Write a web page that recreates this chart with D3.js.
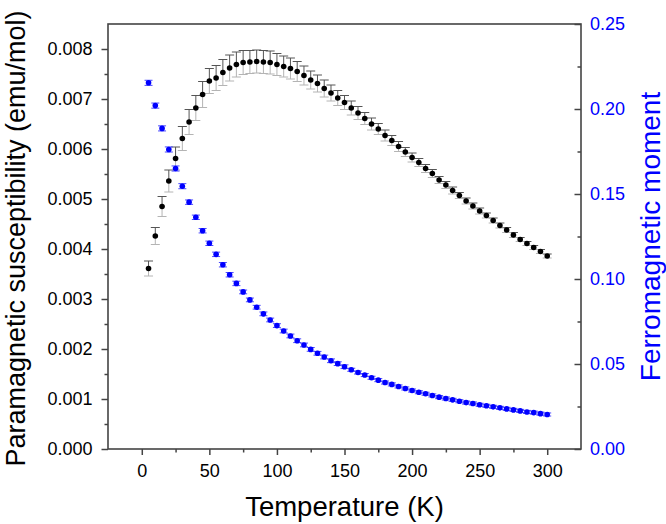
<!DOCTYPE html>
<html>
<head>
<meta charset="utf-8">
<script src="https://cdn.jsdelivr.net/npm/d3@7"></script>
<style>
    body { margin: 0; background: #fff; }
    svg text { font-family: "Liberation Sans", Arial, sans-serif; }
</style>
</head>
<body>
<div id="chart"></div>
<script>

// temperature (K)
var temperature = [5, 10, 15, 20, 25, 30, 35, 40, 45, 50, 55, 60, 65, 70, 75, 80, 85, 90, 95, 100,
    105, 110, 115, 120, 125, 130, 135, 140, 145, 150, 155, 160, 165, 170, 175, 180, 185, 190, 195, 200,
    205, 210, 215, 220, 225, 230, 235, 240, 245, 250, 255, 260, 265, 270, 275, 280, 285, 290, 295, 300];

// paramagnetic susceptibility (emu/mol), left axis
var chiPara = [0.00361, 0.00426, 0.00485, 0.00536, 0.00581, 0.00621, 0.00654, 0.00682, 0.00709, 0.00736,
    0.00742, 0.00753, 0.00762, 0.00769, 0.00773, 0.00774, 0.00775, 0.00774, 0.00773, 0.00769,
    0.00765, 0.00761, 0.00755, 0.00747, 0.00738, 0.00731, 0.00721, 0.00712, 0.00702, 0.00693,
    0.00682, 0.00672, 0.00661, 0.00650, 0.00640, 0.00627, 0.00617, 0.00605, 0.00594, 0.00583,
    0.00573, 0.00561, 0.00551, 0.00538, 0.00528, 0.00517, 0.00507, 0.00496, 0.00486, 0.00476,
    0.00467, 0.00457, 0.00447, 0.00438, 0.00428, 0.00419, 0.00411, 0.00403, 0.00395, 0.00386];

var chiErr = [0.00015, 0.00017, 0.00020, 0.00022, 0.00023, 0.00024, 0.00025, 0.00025, 0.00026, 0.00025,
    0.00025, 0.00026, 0.00026, 0.00025, 0.00024, 0.00023, 0.00023, 0.00023, 0.00023, 0.00022,
    0.00021, 0.00021, 0.00020, 0.00019, 0.00018, 0.00017, 0.00017, 0.00016, 0.00015, 0.00014,
    0.00014, 0.00013, 0.00012, 0.00012, 0.00011, 0.00011, 0.00010, 0.00010, 0.00009, 0.00009,
    0.00008, 0.00008, 0.00008, 0.00007, 0.00007, 0.00007, 0.00006, 0.00006, 0.00006, 0.00006,
    0.00005, 0.00005, 0.00005, 0.00005, 0.00005, 0.00004, 0.00004, 0.00004, 0.00004, 0.00004];

// ferromagnetic moment, right axis
var ferroMoment = [0.2154, 0.2020, 0.1886, 0.1762, 0.1650, 0.1546, 0.1452, 0.1363, 0.1284, 0.1210,
    0.1145, 0.1084, 0.1025, 0.0974, 0.0924, 0.0877, 0.0834, 0.0795, 0.0759, 0.0726,
    0.0694, 0.0665, 0.0637, 0.0612, 0.0586, 0.0563, 0.0541, 0.0519, 0.0502, 0.0484,
    0.0466, 0.0450, 0.0435, 0.0419, 0.0405, 0.0391, 0.0380, 0.0368, 0.0356, 0.0344,
    0.0334, 0.0325, 0.0315, 0.0305, 0.0297, 0.0289, 0.0281, 0.0273, 0.0268, 0.0260,
    0.0254, 0.0248, 0.0242, 0.0236, 0.0230, 0.0224, 0.0218, 0.0214, 0.0208, 0.0203];

var ferroErr = [0.0015, 0.0015, 0.0015, 0.0015, 0.0015, 0.0015, 0.0013, 0.0013, 0.0013, 0.0013,
    0.0013, 0.0013, 0.0013, 0.0013, 0.0011, 0.0011, 0.0011, 0.0011, 0.0011, 0.0011,
    0.0011, 0.0011, 0.0011, 0.0011, 0.0011, 0.0011, 0.0011, 0.0011, 0.0011, 0.0011,
    0.0009, 0.0009, 0.0009, 0.0009, 0.0009, 0.0009, 0.0009, 0.0009, 0.0009, 0.0009,
    0.0009, 0.0009, 0.0009, 0.0009, 0.0009, 0.0009, 0.0009, 0.0009, 0.0009, 0.0009,
    0.0009, 0.0009, 0.0009, 0.0009, 0.0009, 0.0009, 0.0009, 0.0009, 0.0009, 0.0009];

// tick values
var xTicks = [0, 50, 100, 150, 200, 250, 300];
var xMinor = [25, 75, 125, 175, 225, 275];
var leftTicks = [0, 0.001, 0.002, 0.003, 0.004, 0.005, 0.006, 0.007, 0.008];
var leftMinor = [0.0005, 0.0015, 0.0025, 0.0035, 0.0045, 0.0055, 0.0065, 0.0075];
var rightTicks = [0, 0.05, 0.10, 0.15, 0.20, 0.25];
var rightMinor = [0.025, 0.075, 0.125, 0.175, 0.225];


var margin = { top: 24, right: 85, bottom: 75, left: 108 };
var width = 666 - margin.left - margin.right;
var height = 524 - margin.top - margin.bottom;
var axisColor = "#444";
var blue = "#0000ff";

var svg = d3.select("#chart").append("svg")
    .attr("width", 666)
    .attr("height", 524);

var g = svg.append("g")
    .attr("transform", "translate(" + margin.left + "," + margin.top + ")");

var x = d3.scaleLinear().domain([-25, 325]).range([0, width]);
var yLeft = d3.scaleLinear().domain([0, 0.0085]).range([height, 0]);
var yRight = d3.scaleLinear().domain([0, 0.25]).range([height, 0]);

var black = temperature.map(function(t, i) { return { t: t, v: chiPara[i], e: chiErr[i] }; });
var ferro = temperature.map(function(t, i) { return { t: t, v: ferroMoment[i], e: ferroErr[i] }; });

function styleAxis(sel) {
    sel.select(".domain").remove();
    sel.selectAll(".tick line").attr("stroke", axisColor).attr("stroke-width", 1.5);
    sel.selectAll(".tick text").attr("font-size", 18).attr("fill", "#000");
}

// x axis
g.append("g")
    .attr("transform", "translate(0," + height + ")")
    .call(d3.axisBottom(x).tickValues(xTicks).tickSize(6).tickPadding(9).tickFormat(d3.format("d")))
    .call(styleAxis);
g.append("g")
    .attr("transform", "translate(0," + height + ")")
    .call(d3.axisBottom(x).tickValues(xMinor).tickSize(3.5).tickFormat(""))
    .call(styleAxis);

// left axis
g.append("g")
    .call(d3.axisLeft(yLeft).tickValues(leftTicks).tickSize(6.5).tickPadding(9).tickFormat(d3.format(".3f")))
    .call(styleAxis);
g.append("g")
    .call(d3.axisLeft(yLeft).tickValues(leftMinor).tickSize(3.5).tickFormat(""))
    .call(styleAxis);

// right axis, ticks pointing in
var rightAxis = g.append("g")
    .attr("transform", "translate(" + width + ",0)")
    .call(d3.axisRight(yRight).tickValues(rightTicks).tickSizeInner(-6.5).tickSizeOuter(0).tickPadding(9).tickFormat(d3.format(".2f")))
    .call(styleAxis);
rightAxis.selectAll(".tick text").attr("fill", blue);
g.append("g")
    .attr("transform", "translate(" + width + ",0)")
    .call(d3.axisRight(yRight).tickValues(rightMinor).tickSizeInner(-3.5).tickSizeOuter(0).tickFormat(""))
    .call(styleAxis);

// frame
g.append("rect")
    .attr("width", width)
    .attr("height", height)
    .attr("fill", "none")
    .attr("stroke", axisColor)
    .attr("stroke-width", 1.6);

// error bars, susceptibility: upper half dark, lower half light
var capW = 4.5;
var errB = g.append("g");
errB.selectAll("path.up")
    .data(black)
    .enter().append("path")
    .attr("class", "up")
    .attr("fill", "none")
    .attr("stroke", "#555")
    .attr("stroke-width", 1)
    .attr("d", function(d) {
        var cx = x(d.t), y0 = yLeft(d.v), y1 = yLeft(d.v + d.e);
        return "M" + cx + "," + y0 + "V" + y1 + "M" + (cx - capW) + "," + y1 + "H" + (cx + capW);
    });
errB.selectAll("path.down")
    .data(black)
    .enter().append("path")
    .attr("class", "down")
    .attr("fill", "none")
    .attr("stroke", "#b4b4b4")
    .attr("stroke-width", 1)
    .attr("d", function(d) {
        var cx = x(d.t), y0 = yLeft(d.v), y1 = yLeft(d.v - d.e);
        return "M" + cx + "," + y0 + "V" + y1 + "M" + (cx - capW) + "," + y1 + "H" + (cx + capW);
    });

// error bars, ferromagnetic moment
g.append("g").selectAll("path")
    .data(ferro)
    .enter().append("path")
    .attr("fill", "none")
    .attr("stroke", "#4a4aff")
    .attr("stroke-width", 1)
    .attr("d", function(d) {
        var cx = x(d.t), y0 = yRight(d.v - d.e), y1 = yRight(d.v + d.e);
        return "M" + cx + "," + y0 + "V" + y1 +
            "M" + (cx - 4) + "," + y1 + "H" + (cx + 4) +
            "M" + (cx - 4) + "," + y0 + "H" + (cx + 4);
    });

// points
g.append("g").selectAll("circle")
    .data(black)
    .enter().append("circle")
    .attr("cx", function(d) { return x(d.t); })
    .attr("cy", function(d) { return yLeft(d.v); })
    .attr("r", 2.8)
    .attr("fill", "#000");

g.append("g").selectAll("circle")
    .data(ferro)
    .enter().append("circle")
    .attr("cx", function(d) { return x(d.t); })
    .attr("cy", function(d) { return yRight(d.v); })
    .attr("r", 2.8)
    .attr("fill", blue);

// axis titles
svg.append("text")
    .attr("x", margin.left + width / 2)
    .attr("y", 516)
    .attr("text-anchor", "middle")
    .attr("font-size", 27.5)
    .text("Temperature (K)");

svg.append("text")
    .attr("transform", "translate(25," + (margin.top + height / 2 + 2) + ") rotate(-90)")
    .attr("text-anchor", "middle")
    .attr("font-size", 27)
    .text("Paramagnetic susceptibility (emu/mol)");

svg.append("text")
    .attr("transform", "translate(660," + (margin.top + height / 2) + ") rotate(-90)")
    .attr("text-anchor", "middle")
    .attr("font-size", 28)
    .attr("fill", blue)
    .text("Ferromagnetic moment");

</script>
</body>
</html>
